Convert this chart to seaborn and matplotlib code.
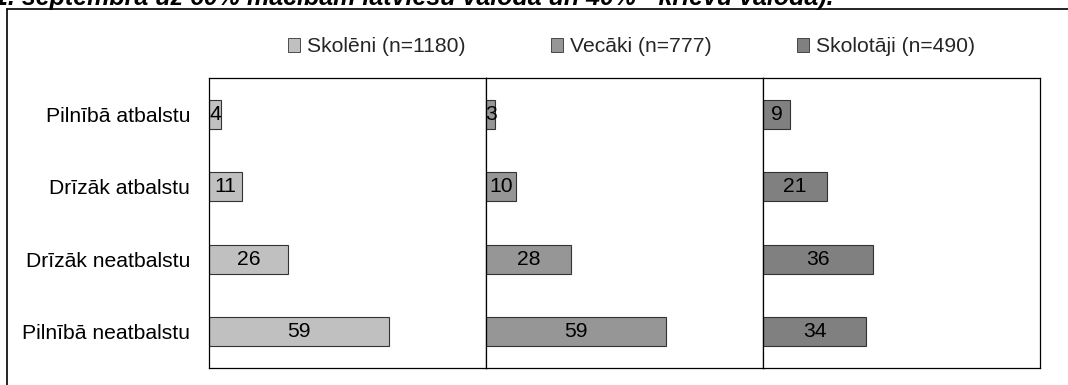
import matplotlib
matplotlib.use("Agg")
import matplotlib.pyplot as plt
import seaborn as sns
import pandas as pd
from matplotlib.patches import Patch
from matplotlib.lines import Line2D

categories = ["Pilnībā atbalstu", "Drīzāk atbalstu", "Drīzāk neatbalstu", "Pilnībā neatbalstu"]
groups = ["Skolēni (n=1180)", "Vecāki (n=777)", "Skolotāji (n=490)"]
skoleni = [4, 11, 26, 59]
vecaki = [3, 10, 28, 59]
skolotaji = [9, 21, 36, 34]
colors = ["#C0C0C0", "#969696", "#808080"]
title_text = "1. septembra uz 60% mācībām latviešu valodā un 40% - krievu valodā)."

sns.set_theme(style="white")
plt.rcParams["font.family"] = ["Liberation Sans", "DejaVu Sans"]

W, H = 1068, 385
fig = plt.figure(figsize=(W / 100, H / 100), dpi=100)

series = [skoleni, vecaki, skolotaji]
left0, pw = 209, 277
top, bottom = 78, 368
fs = 15.2
for i, (vals, col) in enumerate(zip(series, colors)):
    ax = fig.add_axes([(left0 + i * pw) / W, 1 - bottom / H, pw / W, (bottom - top) / H])
    df = pd.DataFrame({"cat": categories, "val": vals})
    sns.barplot(data=df, x="val", y="cat", ax=ax, color=col, width=0.4,
                edgecolor="#333333", linewidth=0.8, saturation=1, orient="h")
    ax.set_xlim(0, 91)
    ax.set_ylim(3.5, -0.5)
    ax.set_xlabel("")
    ax.set_ylabel("")
    ax.set_xticks([])
    for c in ax.containers:
        ax.bar_label(c, label_type="center", fontsize=fs, color="black")
    for s in ax.spines.values():
        s.set_visible(True)
        s.set_color("black")
        s.set_linewidth(0.9)
    if i == 0:
        ax.tick_params(axis="y", length=0, pad=13.5, labelsize=fs, labelcolor="black")
    else:
        ax.set_yticks([])

handles = [Patch(facecolor=c, edgecolor="#333333", linewidth=0.6) for c in colors]
fig.legend(handles, groups, loc="center", bbox_to_anchor=(0.591, 1 - 47 / H), ncol=3,
           frameon=False, fontsize=fs, handlelength=0.6, handleheight=0.6,
           handletextpad=0.3, columnspacing=4.05, borderpad=0, borderaxespad=0)

# outer frame
fig.add_artist(Line2D([7 / W, 1], [1 - 9 / H, 1 - 9 / H], color="black", linewidth=1.2))
fig.add_artist(Line2D([7 / W, 7 / W], [0, 1 - 9 / H], color="black", linewidth=1.2))

fig.text(-0.006, 1 - 5 / H, title_text, fontsize=18, fontweight="bold", fontstyle="italic",
         ha="left", va="baseline", color="black")

fig.savefig("out.png", dpi=100)
